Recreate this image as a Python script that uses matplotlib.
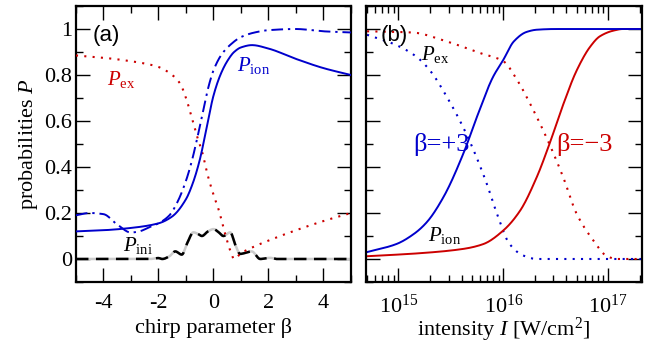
"""
Probabilities vs chirp parameter (a) and vs intensity (b)
"""

import numpy as np
import matplotlib
matplotlib.use("Agg")
import matplotlib.pyplot as plt
from matplotlib.ticker import MultipleLocator, LogLocator, NullFormatter

plt.rcParams['font.family'] = ['Liberation Serif', 'DejaVu Serif']
plt.rcParams['mathtext.fontset'] = 'custom'
plt.rcParams['mathtext.rm'] = 'Liberation Serif'
plt.rcParams['mathtext.it'] = 'Liberation Serif:italic'
plt.rcParams['mathtext.bf'] = 'Liberation Serif:bold'

BLUE = '#0000cc'
RED = '#cc0000'

# panel (a): chirp parameter scan
beta_ion = [-5, -4, -3, -2, -1.5, -1, -0.75, -0.5, -0.25, 0, 0.25, 0.5, 0.75, 1, 1.4, 2, 3, 4, 5]
p_ion = [0.12, 0.125, 0.135, 0.155, 0.185, 0.26, 0.33, 0.43, 0.57, 0.71, 0.80, 0.86, 0.90, 0.92, 0.93, 0.915, 0.87, 0.83, 0.80]

beta_ion2 = [-5, -4.5, -4, -3.5, -3, -2.7, -2.3, -2, -1.6, -1.3, -1.0, -0.8, -0.6, -0.4, -0.2, 0, 0.3, 0.6, 1.0, 1.5, 2, 3, 4, 5]
p_ion2 = [0.19, 0.2, 0.195, 0.15, 0.115, 0.12, 0.14, 0.155, 0.19, 0.25, 0.34, 0.42, 0.52, 0.63, 0.74, 0.82, 0.89, 0.93, 0.965, 0.985, 0.995, 1.0, 0.99, 0.985]

beta_ex = [-5, -4, -3, -2.5, -2, -1.5, -1.2, -1, -0.8, -0.6, -0.4, -0.2, 0, 0.2, 0.4, 0.6, 0.75, 1.0, 1.5, 2, 3, 4, 5]
p_ex = [0.885, 0.875, 0.86, 0.85, 0.835, 0.8, 0.76, 0.70, 0.62, 0.535, 0.46, 0.36, 0.28, 0.21, 0.12, 0.04, 0.0, 0.025, 0.055, 0.08, 0.125, 0.165, 0.2]

beta_ini = [-5, -2.3, -2.0, -1.86, -1.6, -1.39, -1.15, -0.95, -0.73, -0.55, -0.42, -0.2, 0.0, 0.2, 0.36, 0.61, 0.8, 0.97, 1.2, 1.39, 1.7, 2.06, 2.3, 5]
p_ini = [0.0, 0.0, 0.004, 0.0, 0.012, 0.033, 0.019, 0.07, 0.116, 0.108, 0.10, 0.12, 0.13, 0.115, 0.10, 0.116, 0.06, 0.022, 0.028, 0.033, 0.0, 0.005, 0.0, 0.0]

# panel (b): intensity scan, log10 of I in W/cm^2
logI_ion_p = [14.70, 14.98, 15.15, 15.27, 15.43, 15.62, 15.75, 15.90, 16.0, 16.1, 16.22, 16.32, 16.5, 17.32]
ion_p = [0.03, 0.065, 0.11, 0.16, 0.27, 0.46, 0.62, 0.79, 0.866, 0.946, 0.987, 0.997, 1.0, 1.0]

logI_ion_m = [14.70, 15.2, 15.62, 15.81, 16.0, 16.16, 16.32, 16.44, 16.57, 16.70, 16.83, 16.92, 17.05, 17.14, 17.32]
ion_m = [0.012, 0.025, 0.044, 0.065, 0.124, 0.21, 0.357, 0.50, 0.67, 0.82, 0.924, 0.968, 0.993, 1.0, 1.0]

logI_ex_p = [14.70, 14.98, 15.17, 15.30, 15.46, 15.62, 15.71, 15.84, 15.94, 16.06, 16.19, 16.32, 17.32]
ex_p = [0.975, 0.93, 0.88, 0.82, 0.706, 0.57, 0.48, 0.33, 0.196, 0.065, 0.015, 0.0, 0.0]

logI_ex_m = [14.70, 15.13, 15.46, 15.78, 16.0, 16.13, 16.25, 16.41, 16.57, 16.70, 16.86, 16.98, 17.08, 17.32]
ex_m = [0.99, 0.985, 0.946, 0.895, 0.86, 0.78, 0.68, 0.53, 0.357, 0.196, 0.08, 0.015, 0.0, 0.0]


def smooth(xs, ys, n=400):
    """monotone cubic through the read-off points"""
    xs = np.asarray(xs, float)
    ys = np.asarray(ys, float)
    h = np.diff(xs)
    d = np.diff(ys) / h
    m = np.zeros_like(ys)
    m[0], m[-1] = d[0], d[-1]
    for i in range(1, len(xs) - 1):
        if d[i - 1] * d[i] > 0:
            w1 = 2 * h[i] + h[i - 1]
            w2 = h[i] + 2 * h[i - 1]
            m[i] = (w1 + w2) / (w1 / d[i - 1] + w2 / d[i])
    xn = np.linspace(xs[0], xs[-1], n)
    k = np.clip(np.searchsorted(xs, xn) - 1, 0, len(xs) - 2)
    t = (xn - xs[k]) / h[k]
    h00 = 2 * t**3 - 3 * t**2 + 1
    h10 = t**3 - 2 * t**2 + t
    h01 = -2 * t**3 + 3 * t**2
    h11 = t**3 - t**2
    yn = h00 * ys[k] + h10 * h[k] * m[k] + h01 * ys[k + 1] + h11 * h[k] * m[k + 1]
    return xn, yn


fig = plt.figure(figsize=(6.51, 3.48), dpi=100)
axa = fig.add_axes([0.1167, 0.1897, 0.4224, 0.793])
axb = fig.add_axes([0.5622, 0.1897, 0.4235, 0.793])

# (a)
x, y = smooth(beta_ini, p_ini)
axa.plot(x, y, color='#cccccc', lw=1.8, zorder=2)
axa.plot(x, y, color='black', lw=1.8, ls=(0, (5, 3)), zorder=3)
x, y = smooth(beta_ex, p_ex)
axa.plot(x, y, color=RED, lw=1.5, ls=(0, (1, 3)), zorder=4)
x, y = smooth(beta_ion2, p_ion2)
axa.plot(x, y, color=BLUE, lw=1.4, ls=(0, (6, 2.5, 1.2, 2.5)), zorder=5)
x, y = smooth(beta_ion, p_ion)
axa.plot(x, y, color=BLUE, lw=1.4, zorder=6)

axa.set_xlim(-5, 5)
axa.set_ylim(-0.1, 1.1)
axa.xaxis.set_major_locator(MultipleLocator(2))
axa.xaxis.set_minor_locator(MultipleLocator(1))
axa.yaxis.set_major_locator(MultipleLocator(0.2))
axa.yaxis.set_minor_locator(MultipleLocator(0.1))
axa.set_yticks([0, 0.2, 0.4, 0.6, 0.8, 1.0], ['0', '0.2', '0.4', '0.6', '0.8', '1'])
axa.set_xticks([-4, -2, 0, 2, 4], ['-4', '-2', '0', '2', '4'])
axa.set_xlabel('chirp parameter β', fontsize=16, labelpad=3)
axa.set_ylabel(r'probabilities $P$', fontsize=16, labelpad=3)

axa.text(-4.4, 0.97, '(a)', family='Liberation Sans', fontsize=16, va='center')
axa.text(-3.35, 0.78, r'$P_{\mathrm{ex}}$', color=RED, fontsize=15, va='center', ha='center')
axa.text(1.45, 0.84, r'$P_{\mathrm{ion}}$', color=BLUE, fontsize=15, va='center', ha='center')
axa.text(-2.75, 0.06, r'$P_{\mathrm{ini}}$', color='black', fontsize=15, va='center', ha='center')

# (b)
x, y = smooth(logI_ex_m, ex_m)
axb.plot(10**x, y, color=RED, lw=1.5, ls=(0, (1, 3)))
x, y = smooth(logI_ex_p, ex_p)
axb.plot(10**x, y, color=BLUE, lw=1.5, ls=(0, (1, 3)))
x, y = smooth(logI_ion_m, ion_m)
axb.plot(10**x, y, color=RED, lw=1.4)
x, y = smooth(logI_ion_p, ion_p)
axb.plot(10**x, y, color=BLUE, lw=1.4)

axb.set_xscale('log')
axb.set_xlim(10**14.69, 10**17.32)
axb.set_ylim(-0.1, 1.1)
axb.xaxis.set_major_locator(LogLocator(base=10))
axb.xaxis.set_minor_locator(LogLocator(base=10, subs=np.arange(2, 10)))
axb.xaxis.set_minor_formatter(NullFormatter())
axb.yaxis.set_major_locator(MultipleLocator(0.2))
axb.yaxis.set_minor_locator(MultipleLocator(0.1))
axb.set_yticklabels([])
axb.set_xlabel(r'intensity $I$ [W/cm$^2$]', fontsize=16, labelpad=-1)

axb.text(10**14.83, 0.97, '(b)', family='Liberation Sans', fontsize=16, va='center')
axb.text(10**15.35, 0.89, r'$P_{\mathrm{ex}}$', fontsize=15, va='center', ha='center')
axb.text(10**15.41, 0.50, 'β=+3', color=BLUE, fontsize=19, va='center', ha='center')
axb.text(10**16.77, 0.50, 'β=−3', color=RED, fontsize=19, va='center', ha='center')
axb.text(10**15.44, 0.10, r'$P_{\mathrm{ion}}$', fontsize=15, va='center', ha='center')

for ax in (axa, axb):
    for s in ax.spines.values():
        s.set_linewidth(1.6)
    ax.tick_params(which='both', direction='in', top=True, right=True, width=1.0)
    ax.tick_params(which='major', length=10)
    ax.tick_params(which='minor', length=5)
    ax.tick_params(axis='x', which='both', labelsize=16, pad=9)
    ax.tick_params(axis='y', which='both', labelsize=16, pad=3)

fig.savefig('out.png', dpi=100)
